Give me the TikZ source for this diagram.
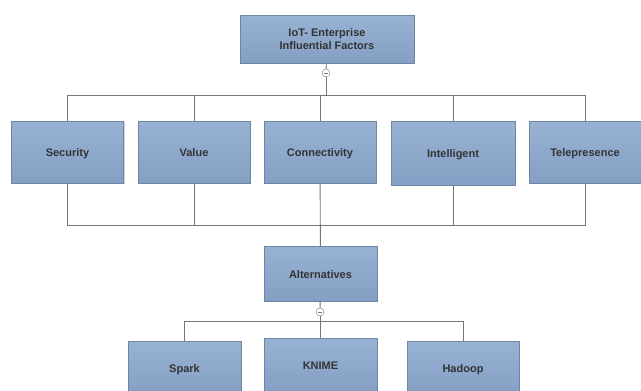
\documentclass[tikz,border=0pt]{standalone}
\usepackage{fontspec}
\setmainfont{Liberation Sans}
\usepackage{tikz}
\usepackage{xcolor}
\usetikzlibrary{calc}
\usetikzlibrary{shadows}
\definecolor{boxtop}{HTML}{98B2D3}
\definecolor{boxbot}{HTML}{859FC4}
\definecolor{boxline}{HTML}{6E86A6}
\definecolor{wire}{HTML}{777777}
\definecolor{txt}{HTML}{333333}

\begin{document}
\begin{tikzpicture}[x=1pt,y=-1pt,
   box/.style={draw=boxline,top color=boxtop,bottom color=boxbot,
     text=txt,font=\fontsize{11}{13}\selectfont\bfseries,
     inner sep=0pt,minimum width=112pt,minimum height=62pt,
     drop shadow={shadow xshift=1pt,shadow yshift=-1pt,opacity=0.35}},
   factor/.style={box,text height=9pt,text depth=0pt},
   toggle/.style={draw=wire,circle,fill=white,inner sep=0pt,minimum size=8pt,
     path picture={\draw[wire,line width=0.8pt]
       ([xshift=-2pt]path picture bounding box.center) --
       ([xshift=2pt]path picture bounding box.center);}},
   link/.style={draw=wire,line width=0.9pt}]
\useasboundingbox (0,0) rectangle (641,391);
\clip (0,0) rectangle (641,391);
\node[box,align=center,minimum width=174pt,minimum height=48pt] (iot) at (327,39)
   {IoT- Enterprise\\Influential Factors};
\node[toggle] (t1) at (326,73) {};
\coordinate (bus1) at (326,95);
\node[factor] (sec) at (67.5,152) {Security};
\node[factor] (val) at (194,152) {Value};
\node[factor] (con) at (320,152) {Connectivity};
\node[factor,minimum width=124pt,minimum height=64pt] (int) at (453,153) {Intelligent};
\node[factor] (tel) at (585,152) {Telepresence};
\coordinate (bus2) at (320,225);
\node[factor,minimum width=113pt,minimum height=55pt] (alt) at (320.5,273.5) {Alternatives};
\node[toggle] (t2) at (320,312) {};
\coordinate (bus3) at (320,321);
\node[factor,anchor=north,minimum width=113pt,minimum height=54pt] (spark) at (184.5,341) {Spark};
\node[factor,anchor=north,minimum width=113pt,minimum height=54pt] (knime) at (320.5,338) {KNIME};
\node[factor,anchor=north,minimum width=112pt,minimum height=54pt] (hadoop) at (463,341) {Hadoop};
\draw[link] (iot) -- (t1);
\foreach \n in {sec,val,con,int,tel}
   \draw[link] (t1) -- (bus1) -| (\n.north);
\foreach \n in {sec,val,int,tel}
   \draw[link] (\n.south) |- (bus2);
\draw[link] (con) -- (alt);
\draw[link] (alt) -- (t2);
\foreach \n in {spark,knime,hadoop}
   \draw[link] (t2) -- (bus3) -| (\n.north);
\end{tikzpicture}
\end{document}
